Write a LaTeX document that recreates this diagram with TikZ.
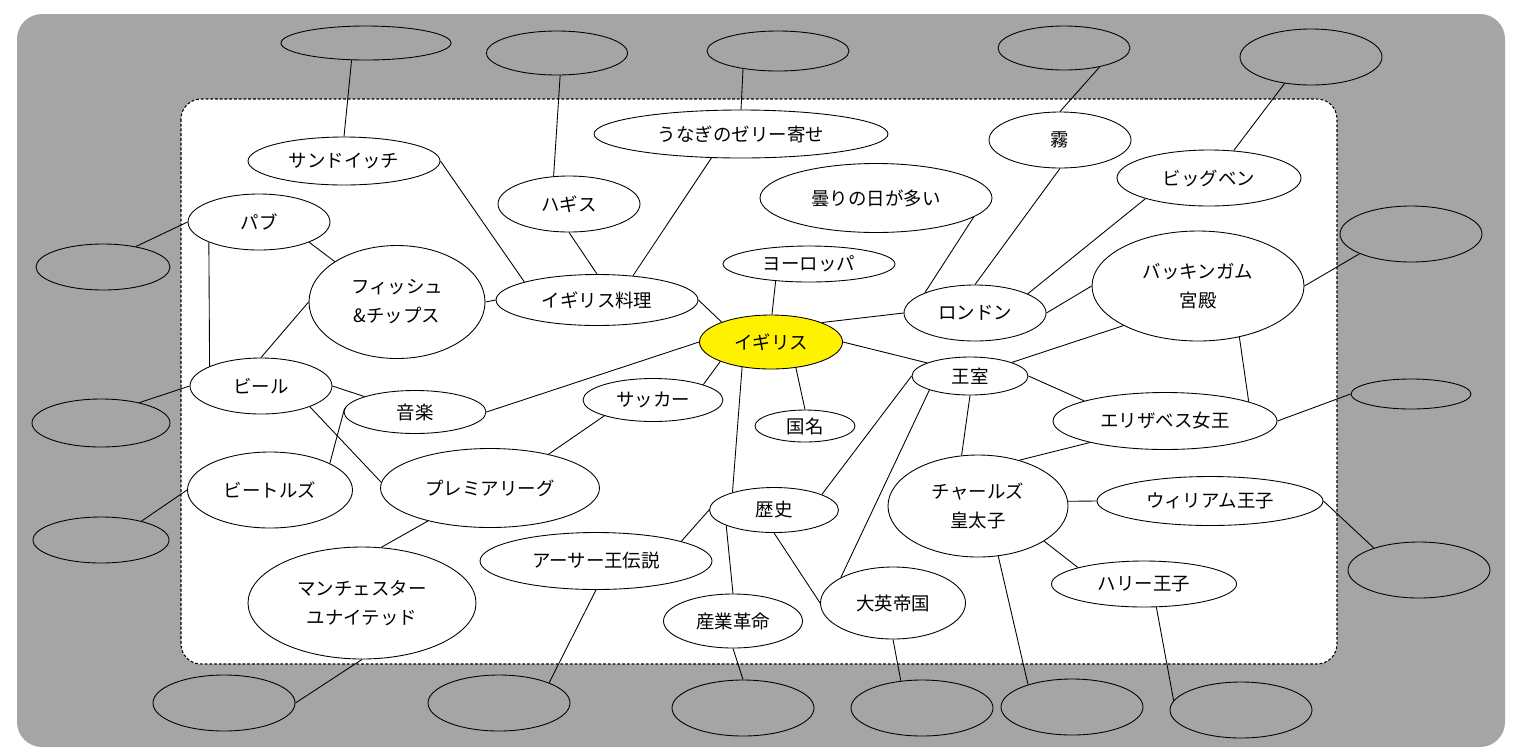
\documentclass[tikz,border=0pt]{standalone}
\usepackage{fontspec}
\setmainfont{Noto Sans CJK JP}
\usetikzlibrary{shapes.geometric}
\definecolor{bggray}{HTML}{A5A5A5}

\begin{document}
\begin{tikzpicture}[x=0.2mm,y=-0.2mm,
  sty1/.style={draw=black, fill=white, ellipse, inner sep=0pt, line width=0.5pt,
    align=center, font=\fontsize{10.5}{16.5}\selectfont},
  sty2/.style={draw=black, ellipse, inner sep=0pt, line width=0.5pt},
  sty3/.style={color=black, line width=0.5pt},
  sz/.style 2 args={minimum width=#1*0.2mm, minimum height=#2*0.2mm}]

\useasboundingbox (0,0) rectangle (1519,751);

% Background panels
\fill[bggray, rounded corners=5mm] (17,14) rectangle (1505,747);
\draw[fill=white, line width=0.6pt, dash pattern=on 1.6pt off 1.1pt,
  rounded corners=4mm] (181,99) rectangle (1337,664);

% Outer (empty) bubbles
\draw (366,43) node[sty2, sz={170}{34}] (osand) {};
\draw (557,53) node[sty2, sz={141}{44}] (ohag) {};
\draw (778,51) node[sty2, sz={142}{40}] (ouna) {};
\draw (1064,48) node[sty2, sz={132}{44}] (ofog) {};
\draw (1311,57) node[sty2, sz={142}{56}] (obig) {};
\draw (1411,234) node[sty2, sz={142}{56}] (obuck) {};
\draw (1411,394) node[sty2, sz={120}{30}] (oeliz) {};
\draw (1419,570) node[sty2, sz={142}{56}] (owil) {};
\draw (1241,710) node[sty2, sz={142}{56}] (oharry) {};
\draw (1072,707) node[sty2, sz={142}{56}] (ochar) {};
\draw (922,708) node[sty2, sz={142}{56}] (oempire) {};
\draw (743,708) node[sty2, sz={142}{56}] (oindus) {};
\draw (499,703) node[sty2, sz={142}{56}] (oarthur) {};
\draw (224,703) node[sty2, sz={142}{56}] (oman) {};
\draw (101,540) node[sty2, sz={136}{46}] (obeatles) {};
\draw (101,423) node[sty2, sz={138}{48}] (obeer) {};
\draw (103,267) node[sty2, sz={134}{46}] (opub) {};

% Centre
\draw (771,342) node[sty1, fill=yellow, sz={143}{54}] (uk) {イギリス};

% Food
\draw (344,161) node[sty1, sz={192}{48}] (sand) {サンドイッチ};
\draw (569,204) node[sty1, sz={142}{56}] (hag) {ハギス};
\draw (741,134) node[sty1, sz={294}{48}] (una) {うなぎのゼリー寄せ};
\draw (259,222) node[sty1, sz={142}{56}] (pub) {パブ};
\draw (397,302) node[sty1, sz={176}{113}] (fish) {フィッシュ\\\&チップス};
\draw (597,300) node[sty1, sz={202}{51}] (ryouri) {イギリス料理};
\draw (261,386) node[sty1, sz={142}{56}] (beer) {ビール};

% Culture
\draw (415,412) node[sty1, sz={142}{43}] (music) {音楽};
\draw (653,400) node[sty1, sz={140}{43}] (soccer) {サッカー};
\draw (270,490) node[sty1, sz={165}{76}] (beatles) {ビートルズ};
\draw (490,488) node[sty1, sz={219}{79}] (premier) {プレミアリーグ};
\draw (362,603) node[sty1, sz={228}{112}] (man) {マンチェスター\\ユナイテッド};

% Places and weather
\draw (809,264) node[sty1, sz={172}{36}] (europe) {ヨーロッパ};
\draw (876,198) node[sty1, sz={232}{69}] (cloudy) {曇りの日が多い};
\draw (1060,140) node[sty1, sz={142}{56}] (fog) {霧};
\draw (1209,178) node[sty1, sz={184}{56}] (big) {ビッグベン};
\draw (975,313) node[sty1, sz={142}{56}] (london) {ロンドン};
\draw (1198,286) node[sty1, sz={212}{110}] (buck) {バッキンガム\\宮殿};

% Royal family
\draw (970,376) node[sty1, sz={116}{38}] (royal) {王室};
\draw (1165,421) node[sty1, sz={224}{57}] (eliz) {エリザベス女王};
\draw (978,506) node[sty1, sz={180}{102}] (char) {チャールズ\\皇太子};
\draw (1210,501) node[sty1, sz={226}{49}] (wil) {ウィリアム王子};
\draw (1144,584) node[sty1, sz={185}{46}] (harry) {ハリー王子};

% History
\draw (805,426) node[sty1, sz={100}{32}] (kokumei) {国名};
\draw (774,510) node[sty1, sz={129}{45}] (history) {歴史};
\draw (733,621) node[sty1, sz={139}{54}] (indus) {産業革命};
\draw (893,603) node[sty1, sz={145}{72}] (empire) {大英帝国};
\draw (596,561) node[sty1, sz={232}{57}] (arthur) {アーサー王伝説};

% Connectors to the outer bubbles
\draw[sty3] (osand.230) -- (sand.90);
\draw[sty3] (ohag.278) -- (hag.119);
\draw[sty3] (ouna.207) -- (una.90);
\draw[sty3] (ofog.332) -- (fog.90);
\draw[sty3] (obig.225) -- (big.48);
\draw[sty3] (obuck.201) -- (buck.0);
\draw[sty3] (oeliz.180) -- (eliz.0);
\draw[sty3] (wil.0) -- (owil.154);
\draw[sty3] (harry.298) -- (oharry.172);
\draw[sty3] (char.292) -- (ochar.153);
\draw[sty3] (empire.270) -- (oempire.128);
\draw[sty3] (indus.270) -- (oindus.90);
\draw[sty3] (arthur.270) -- (oarthur.22);
\draw[sty3] (man.270) -- (oman.0);
\draw[sty3] (beatles.180) -- (obeatles.25);
\draw[sty3] (beer.180) -- (obeer.28);
\draw[sty3] (pub.180) -- (opub.32);

% Inner connectors
\draw[sty3] (sand.0) -- (ryouri.166);
\draw[sty3] (hag.270) -- (ryouri.90);
\draw[sty3] (una.219) -- (ryouri.34);
\draw[sty3] (fish.0) -- (ryouri.180);
\draw[sty3] (ryouri.0) -- (uk.158);
\draw[sty3] (pub.338) -- (fish.147);
\draw[sty3] (pub.202) -- (beer.159);
\draw[sty3] (fish.180) -- (beer.90);
\draw[sty3] (beer.0) -- (music.163);
\draw[sty3] (beer.337) -- (premier.177);
\draw[sty3] (music.177) -- (beatles.24);
\draw[sty3] (music.0) -- (uk.180);
\draw[sty3] (soccer.17) -- (uk.201);
\draw[sty3] (soccer.198) -- (premier.30);
\draw[sty3] (premier.208) -- (man.71);
\draw[sty3] (europe.207) -- (uk.88);
\draw[sty3] (cloudy.349) -- (london.158);
\draw[sty3] (fog.270) -- (london.90);
\draw[sty3] (big.198) -- (london.20);
\draw[sty3] (london.0) -- (buck.180);
\draw[sty3] (london.180) -- (uk.21);
\draw[sty3] (uk.0) -- (royal.163);
\draw[sty3] (buck.208) -- (royal.18);
\draw[sty3] (buck.309) -- (eliz.13);
\draw[sty3] (royal.0) -- (eliz.166);
\draw[sty3] (royal.270) -- (char.108);
\draw[sty3] (royal.180) -- (history.18);
\draw[sty3] (royal.199) -- (empire.154);
\draw[sty3] (eliz.196) -- (char.48);
\draw[sty3] (char.3) -- (wil.180);
\draw[sty3] (char.332) -- (harry.166);
\draw[sty3] (uk.314) -- (kokumei.90);
\draw[sty3] (uk.221) -- (history.157);
\draw[sty3] (history.180) -- (arthur.13);
\draw[sty3] (history.198) -- (indus.90);
\draw[sty3] (history.270) -- (empire.180);

\end{tikzpicture}
\end{document}
